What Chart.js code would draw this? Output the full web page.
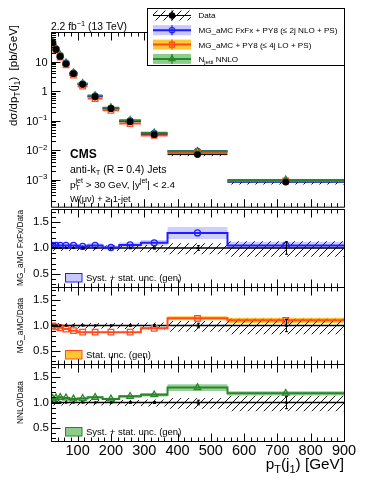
<!DOCTYPE html>
<html>
<head>
<meta charset="utf-8">
<script src="https://cdn.jsdelivr.net/npm/chart.js@4.4.1/dist/chart.umd.min.js"></script>
<style>
  body { margin: 0; background: #fff; }
  #wrap { position: relative; width: 374px; height: 484px; overflow: hidden; }
  #wrap canvas { position: absolute; left: 0; }
</style>
</head>
<body>
<div id="wrap">
  <canvas id="top" width="374" height="212" style="top:0"></canvas>
  <canvas id="r1" width="374" height="96" style="top:200px"></canvas>
  <canvas id="r2" width="374" height="95" style="top:278px"></canvas>
  <canvas id="r3" width="374" height="129" style="top:355px"></canvas>
</div>
<script>
// ---- values ----
const binEdges = [20, 30, 40, 55, 75, 100, 130, 175, 225, 290, 370, 550, 900];
const dataXsec = [43, 25.7, 15, 8.4, 3.9, 1.7, 0.65, 0.26, 0.093, 0.034, 0.0072, 0.00085];
const dataStat = [0.004, 0.004, 0.004, 0.005, 0.005, 0.006, 0.007, 0.009, 0.013, 0.02, 0.045, 0.12];
const dataUncUp = [0.05, 0.05, 0.05, 0.05, 0.05, 0.05, 0.05, 0.05, 0.05, 0.06, 0.09, 0.13];
const dataUncDown = [0.06, 0.06, 0.06, 0.06, 0.06, 0.06, 0.06, 0.06, 0.07, 0.08, 0.12, 0.17];
const fxfxRatio = [1.05, 1.05, 1.05, 1.05, 1.05, 1.03, 1.05, 1.01, 1.06, 1.10, 1.29, 1.05];
const fxfxUnc = [0.04, 0.04, 0.04, 0.04, 0.04, 0.04, 0.04, 0.04, 0.045, 0.05, 0.09, 0.065];
const loRatio = [0.99, 0.975, 0.955, 0.93, 0.90, 0.87, 0.87, 0.87, 0.87, 0.945, 1.14, 1.10];
const loUnc = [0.005, 0.005, 0.005, 0.005, 0.006, 0.007, 0.008, 0.01, 0.012, 0.02, 0.035, 0.045];
const nnloRatio = [1.08, 1.09, 1.10, 1.09, 1.07, 1.08, 1.10, 1.07, 1.12, 1.15, 1.29, 1.18];
const nnloUnc = [0.02, 0.02, 0.02, 0.02, 0.02, 0.02, 0.02, 0.02, 0.025, 0.03, 0.05, 0.035];

const seriesNames = ['Data', 'MG_aMC FxFx + PY8 (≤ 2j NLO + PS)', 'MG_aMC + PY8 (≤ 4j LO + PS)', 'N_{jetti} NNLO'];
const ratioTitles = ['MG_aMC FxFx/Data', 'MG_aMC/Data', 'NNLO/Data'];
const ratioLegends = ['Syst. + stat. unc. (gen)', 'Stat. unc. (gen)', 'Syst. + stat. unc. (gen)'];
const xTicks = [100, 200, 300, 400, 500, 600, 700, 800, 900];
const ratioTicks = [0.5, 1, 1.5];
const logTicks = [1e-3, 1e-2, 1e-1, 1, 10];
const xRange = [20, 900];
const ratioRange = [0.25, 1.75];
const xsecRange = [1.25e-4, 100];

const FONT = '"Liberation Sans", Arial, sans-serif';
const clear = 'rgba(0,0,0,0)';

const models = [
  {ratio: fxfxRatio, unc: fxfxUnc, line: 'rgb(30,30,255)', band: 'rgba(60,60,255,0.25)', box: 'rgb(200,200,255)', style: 'circle', radius: 3},
  {ratio: loRatio, unc: loUnc, line: 'rgb(255,75,30)', band: 'rgba(255,190,20,0.85)', box: 'rgb(255,200,50)', style: 'rect', radius: 3.9},
  {ratio: nnloRatio, unc: nnloUnc, line: 'rgb(40,135,40)', band: 'rgba(70,170,70,0.55)', box: 'rgb(140,205,140)', style: 'triangle', radius: 3.8},
];

const centers = binEdges.slice(0, -1).map((e, i) => (e + binEdges[i + 1]) / 2);

// histogram outline, connected across bins
function stepPts(vals) {
  return vals.flatMap((v, i) => [{x: binEdges[i], y: v}, {x: binEdges[i + 1], y: v}]);
}
// one separate horizontal piece per bin
function segPts(vals) {
  return vals.flatMap((v, i) => [{x: binEdges[i], y: v}, {x: binEdges[i + 1], y: v}, {x: binEdges[i + 1], y: null}]);
}

function lineSet(data, style) {
  return Object.assign({type: 'line', data, pointRadius: 0, borderWidth: 0, borderColor: clear, backgroundColor: clear, fill: false}, style);
}
function markSet(data, style) {
  return Object.assign({type: 'line', data, showLine: false, borderWidth: 1.3, backgroundColor: clear}, style);
}

function makeHatch(canvasId) {
  const tile = document.createElement('canvas');
  tile.width = tile.height = 8;
  const g = tile.getContext('2d');
  g.strokeStyle = '#000';
  g.lineWidth = 0.9;
  g.beginPath();
  g.moveTo(-1, 9); g.lineTo(9, -1);
  g.moveTo(-1, 1); g.lineTo(1, -1);
  g.moveTo(7, 9); g.lineTo(9, 7);
  g.stroke();
  return document.getElementById(canvasId).getContext('2d').createPattern(tile, 'repeat');
}

// tiny latex-ish text: _{..} subscript, ^{..} superscript
function parseTex(s) {
  const out = [];
  let buf = '', i = 0;
  while (i < s.length) {
    const c = s[i];
    if ((c === '_' || c === '^') && s[i + 1] === '{') {
      if (buf) { out.push({t: buf, m: 0}); buf = ''; }
      const j = s.indexOf('}', i);
      out.push({t: s.slice(i + 2, j), m: c === '_' ? 1 : 2});
      i = j + 1;
    } else { buf += c; i++; }
  }
  if (buf) out.push({t: buf, m: 0});
  return out;
}
function drawTex(ctx, str, x, y, size, align, weight) {
  const parts = parseTex(str);
  const font = s => `${weight || 'normal'} ${s}px ${FONT}`;
  let cx = 0, prev = null;
  parts.forEach(p => {
    p.s = p.m ? size * 0.72 : size;
    ctx.font = font(p.s);
    p.w = ctx.measureText(p.t).width;
    if (p.m && prev && prev.m && prev.m !== p.m) { p.x = prev.x; cx = Math.max(cx, p.x + p.w); }
    else { p.x = cx; cx += p.w; }
    prev = p;
  });
  const x0 = align === 'right' ? x - cx : align === 'center' ? x - cx / 2 : x;
  ctx.textAlign = 'left';
  ctx.textBaseline = 'alphabetic';
  parts.forEach(p => {
    ctx.font = font(p.s);
    const dy = p.m === 1 ? size * 0.28 : p.m === 2 ? -size * 0.42 : 0;
    ctx.fillText(p.t, x0 + p.x, y + dy);
  });
}

function drawMarker(ctx, style, x, y, r) {
  ctx.beginPath();
  if (style === 'circle') ctx.arc(x, y, r, 0, Math.PI * 2);
  else if (style === 'rect') { const s = r * Math.SQRT1_2; ctx.rect(x - s, y - s, 2 * s, 2 * s); }
  else {
    ctx.moveTo(x, y - r);
    ctx.lineTo(x + 0.866 * r, y + 0.5 * r);
    ctx.lineTo(x - 0.866 * r, y + 0.5 * r);
    ctx.closePath();
  }
}

function yTickValues(isLog) {
  const out = [];
  if (isLog) {
    for (let e = -4; e <= 2; e++) for (let k = 1; k <= 9; k++) {
      const v = k * Math.pow(10, e);
      if (v >= xsecRange[0] && v <= xsecRange[1]) out.push([v, k === 1]);
    }
  } else {
    for (let k = 3; k <= 17; k++) out.push([k / 10, k % 5 === 0]);
  }
  return out;
}

// frame, inward ROOT-like ticks and the data stat. error bars
const frameTicks = {
  id: 'frameTicks',
  afterDatasetsDraw(chart, args, o) {
    const {ctx, chartArea: a} = chart;
    const x = chart.scales.x, y = chart.scales.y;
    ctx.save();
    ctx.strokeStyle = '#000';
    ctx.lineWidth = 1;
    ctx.beginPath();
    (o.errBars || []).forEach(([c, lo, hi]) => {
      const px = Math.round(x.getPixelForValue(c)) + 0.5;
      const p1 = y.getPixelForValue(lo), p2 = y.getPixelForValue(hi);
      ctx.moveTo(px, p1); ctx.lineTo(px, p2);
      ctx.moveTo(px - 1.5, p1); ctx.lineTo(px + 1.5, p1);
      ctx.moveTo(px - 1.5, p2); ctx.lineTo(px + 1.5, p2);
    });
    ctx.stroke();
    const L = a.left + 0.5, R = a.right + 0.5, T = a.top + 0.5, B = a.bottom + 0.5;
    ctx.beginPath();
    ctx.rect(L, T, R - L, B - T);
    for (let v = xRange[0]; v <= xRange[1]; v += 20) {
      const px = Math.round(x.getPixelForValue(v)) + 0.5;
      const len = xTicks.includes(v) ? o.xMajor : o.xMinor;
      ctx.moveTo(px, B); ctx.lineTo(px, B - len);
      ctx.moveTo(px, T); ctx.lineTo(px, T + len);
    }
    yTickValues(o.log).forEach(([v, major]) => {
      const py = Math.round(y.getPixelForValue(v)) + 0.5;
      ctx.moveTo(L, py); ctx.lineTo(L + (major ? o.yMajor : o.yMinor), py);
    });
    ctx.stroke();
    ctx.restore();
  }
};

const topDecor = {
  id: 'topDecor',
  afterDraw(chart, args, o) {
    const {ctx, scales: {y}} = chart;
    ctx.save();
    ctx.fillStyle = '#000';
    logTicks.forEach(v => {
      const e = Math.round(Math.log10(v));
      const label = e === 0 ? '1' : e === 1 ? '10' : '10^{−' + (-e) + '}';
      drawTex(ctx, label, 47.5, y.getPixelForValue(v) + 4, 11, 'right');
    });
    ctx.save();
    ctx.translate(16.5, 25);
    ctx.rotate(-Math.PI / 2);
    drawTex(ctx, 'dσ/dp_{T}(j_{1})  [pb/GeV]', 0, 0, 11.5, 'right');
    ctx.restore();
    drawTex(ctx, '2.2 fb^{−1} (13 TeV)', 51, 30, 10.3);
    drawTex(ctx, 'CMS', 70, 158, 12, 'left', 'bold');
    drawTex(ctx, 'anti-k_{T} (R = 0.4) Jets', 70, 172.5, 10.5);
    drawTex(ctx, 'p_{T}^{jet} > 30 GeV, |y^{jet}| < 2.4', 70, 187.5, 9.9);
    drawTex(ctx, 'W(μν) + ≥ 1-jet', 70, 201.5, 9.2);

    // legend
    const bx = 147.5, by = 8.5, bw = 197, bh = 57;
    ctx.fillStyle = '#fff';
    ctx.fillRect(bx, by, bw, bh);
    ctx.strokeStyle = '#000';
    ctx.lineWidth = 1;
    ctx.strokeRect(bx, by, bw, bh);
    const rows = [15.5, 30.2, 44.6, 58.9];
    const s0 = 153, s1 = 191, mx = 172;
    rows.forEach((ry, k) => {
      ctx.save();
      if (k === 0) {
        ctx.fillStyle = o.hatch;
        ctx.fillRect(s0, ry - 5, s1 - s0, 10);
        ctx.strokeStyle = '#000';
        ctx.lineWidth = 1.2;
        ctx.beginPath();
        ctx.moveTo(s0, ry); ctx.lineTo(s1, ry);
        ctx.moveTo(mx, ry - 5); ctx.lineTo(mx, ry + 5);
        ctx.stroke();
        ctx.fillStyle = '#000';
        drawMarker(ctx, 'circle', mx, ry, 3.3);
        ctx.fill();
      } else {
        const m = models[k - 1];
        ctx.fillStyle = m.box;
        ctx.fillRect(s0, ry - 5, s1 - s0, 10);
        ctx.strokeStyle = m.line;
        ctx.lineWidth = 2;
        ctx.beginPath();
        ctx.moveTo(s0, ry); ctx.lineTo(s1, ry);
        ctx.stroke();
        ctx.lineWidth = 1.2;
        ctx.beginPath();
        ctx.moveTo(mx, ry - 5); ctx.lineTo(mx, ry + 5);
        ctx.stroke();
        drawMarker(ctx, m.style, mx, ry, m.radius * 0.9);
        ctx.stroke();
      }
      ctx.restore();
      ctx.fillStyle = '#000';
      drawTex(ctx, seriesNames[k], 198.5, ry + 2.9, 8.1);
    });
    ctx.restore();
  }
};

const ratioDecor = {
  id: 'ratioDecor',
  afterDraw(chart, args, o) {
    const {ctx, chartArea: a} = chart;
    ctx.save();
    ctx.fillStyle = '#000';
    ctx.save();
    ctx.translate(23, (a.top + a.bottom) / 2);
    ctx.rotate(-Math.PI / 2);
    drawTex(ctx, o.title, 0, 0, 8.3, 'center');
    ctx.restore();
    const bx = 65.5, by = a.bottom - 13.5;
    ctx.fillStyle = o.box;
    ctx.fillRect(bx, by, 16.5, 8.5);
    ctx.strokeStyle = o.edge;
    ctx.lineWidth = 1;
    ctx.strokeRect(bx, by, 16.5, 8.5);
    ctx.fillStyle = '#000';
    drawTex(ctx, o.legend, 86, a.bottom - 6.5, 9.5);
    if (o.xTitle) drawTex(ctx, o.xTitle, a.right, a.bottom + 28, 15.3, 'right');
    ctx.restore();
  }
};

// ---- top panel: cross section ----
const hatchTop = makeHatch('top');
const topSets = [
  lineSet(segPts(dataXsec.map((d, i) => d * (1 + dataUncUp[i]))), {order: 7}),
  lineSet(segPts(dataXsec.map((d, i) => d * (1 - dataUncDown[i]))), {order: 7, fill: '-1', backgroundColor: hatchTop}),
  lineSet(segPts(dataXsec), {order: 6, borderColor: '#000', borderWidth: 1}),
];
models.forEach((m, k) => {
  const mc = dataXsec.map((d, i) => d * m.ratio[i]);
  topSets.push(
    lineSet(segPts(mc.map((v, i) => v * (1 + m.unc[i]))), {order: 9 - k * 0.3}),
    lineSet(segPts(mc.map((v, i) => v * (1 - m.unc[i]))), {order: 9 - k * 0.3, fill: '-1', backgroundColor: m.band}),
    lineSet(segPts(mc), {order: 5 - k * 0.3, borderColor: m.line, borderWidth: 2}),
    markSet(centers.map((c, i) => ({x: c, y: mc[i]})), {order: 3 - k * 0.3, pointStyle: m.style, pointRadius: m.radius, borderColor: m.line})
  );
});
topSets.push(markSet(centers.map((c, i) => ({x: c, y: dataXsec[i]})), {order: 1, pointStyle: 'circle', pointRadius: 3.4, borderWidth: 0, backgroundColor: '#000', borderColor: '#000'}));

new Chart(document.getElementById('top'), {
  type: 'line',
  data: {datasets: topSets},
  options: {
    responsive: false,
    animation: false,
    events: [],
    layout: {padding: {left: 51, right: 30, top: 32, bottom: 3}},
    scales: {
      x: {type: 'linear', min: xRange[0], max: xRange[1], display: false},
      y: {type: 'logarithmic', min: xsecRange[0], max: xsecRange[1], display: false}
    },
    plugins: {
      legend: {display: false},
      tooltip: {enabled: false},
      frameTicks: {log: true, xMajor: 8, xMinor: 4, yMajor: 9, yMinor: 4.5,
        errBars: centers.map((c, i) => [c, dataXsec[i] * (1 - dataStat[i]), dataXsec[i] * (1 + dataStat[i])])},
      topDecor: {hatch: hatchTop}
    }
  },
  plugins: [frameTicks, topDecor]
});

// ---- ratio panels ----
function ratioChart(id, k, bottom) {
  const m = models[k];
  const hatch = makeHatch(id);
  const sets = [
    lineSet(stepPts(dataUncUp.map(u => 1 + u)), {order: 5}),
    lineSet(stepPts(dataUncDown.map(d => 1 - d)), {order: 5, fill: '-1', backgroundColor: hatch}),
    lineSet(stepPts(m.ratio.map((r, i) => r * (1 + m.unc[i]))), {order: 7}),
    lineSet(stepPts(m.ratio.map((r, i) => r * (1 - m.unc[i]))), {order: 7, fill: '-1', backgroundColor: m.band}),
    lineSet([{x: xRange[0], y: 1}, {x: xRange[1], y: 1}], {order: 4, borderColor: '#000', borderWidth: 1.3}),
    lineSet(stepPts(m.ratio), {order: 3, borderColor: m.line, borderWidth: 2}),
    markSet(centers.map((c, i) => ({x: c, y: m.ratio[i]})), {order: 2, pointStyle: m.style, pointRadius: m.radius, borderColor: m.line}),
    markSet(centers.map(c => ({x: c, y: 1})), {order: 1, pointStyle: 'circle', pointRadius: 1.2, borderWidth: 0, backgroundColor: '#000'})
  ];
  return new Chart(document.getElementById(id), {
    type: 'line',
    data: {datasets: sets},
    options: {
      responsive: false,
      animation: false,
      events: [],
      layout: {padding: {left: 0, right: 30, top: 9, bottom: bottom ? 0 : 9}},
      scales: {
        x: bottom ? {
          type: 'linear', min: xRange[0], max: xRange[1],
          grid: {display: false, drawTicks: false}, border: {display: false},
          ticks: {color: '#000', font: {family: FONT, size: 14.5}, padding: 1, maxRotation: 0, autoSkip: false},
          afterBuildTicks: s => { s.ticks = xTicks.map(v => ({value: v})); },
          afterFit: s => { s.height = 43; }
        } : {type: 'linear', min: xRange[0], max: xRange[1], display: false},
        y: {
          type: 'linear', min: ratioRange[0], max: ratioRange[1],
          grid: {display: false, drawTicks: false}, border: {display: false},
          ticks: {color: '#000', font: {family: FONT, size: 11.5}, padding: 2},
          afterBuildTicks: s => { s.ticks = ratioTicks.map(v => ({value: v})); },
          afterFit: s => { s.width = 51; }
        }
      },
      plugins: {
        legend: {display: false},
        tooltip: {enabled: false},
        frameTicks: {log: false, xMajor: 8, xMinor: 4, yMajor: 9, yMinor: 4.5,
          errBars: centers.map((c, i) => [c, 1 - dataStat[i], 1 + dataStat[i]])},
        ratioDecor: {title: ratioTitles[k], legend: ratioLegends[k], box: m.box, edge: m.line,
          xTitle: bottom ? 'p_{T}(j_{1}) [GeV]' : null}
      }
    },
    plugins: [frameTicks, ratioDecor]
  });
}

ratioChart('r1', 0, false);
ratioChart('r2', 1, false);
ratioChart('r3', 2, true);
</script>
</body>
</html>
